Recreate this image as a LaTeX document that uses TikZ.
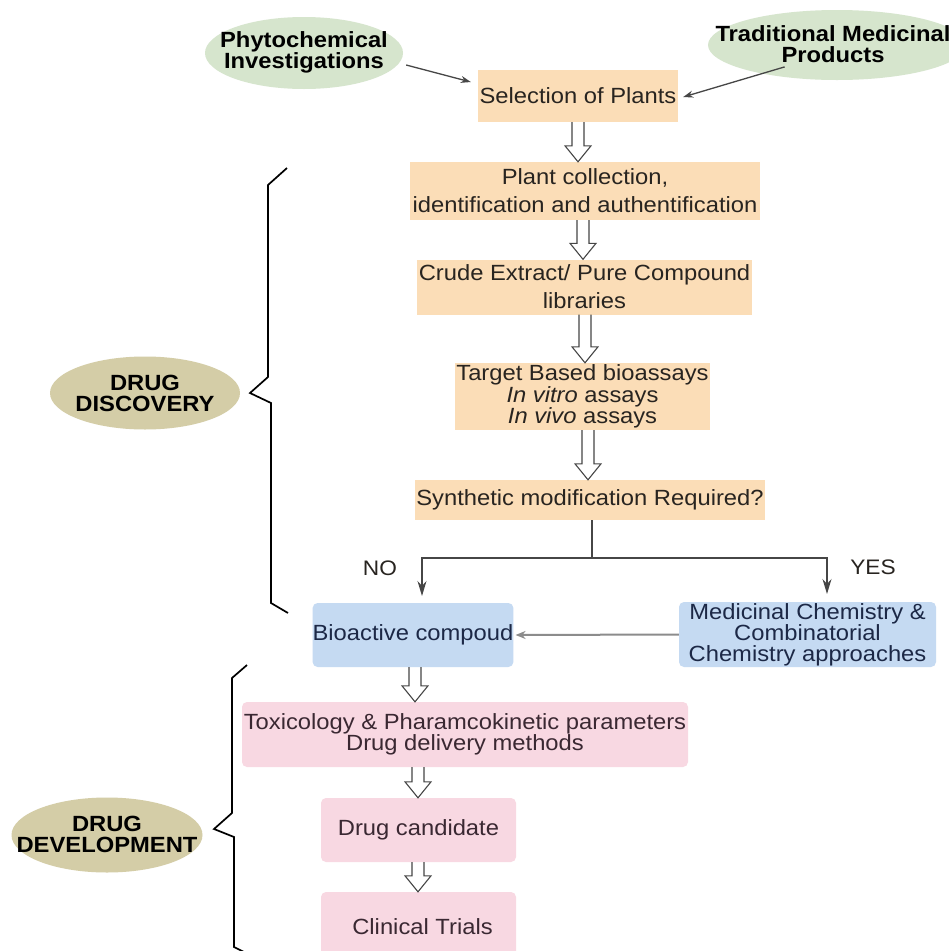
\documentclass[tikz,border=0pt]{standalone}
\usepackage{fontspec}
\setmainfont{Liberation Sans}[FakeStretch=1.08]
\usetikzlibrary{shapes.geometric,arrows.meta,calc}
\definecolor{peachc}{RGB}{251,221,183}
\definecolor{bluec}{RGB}{197,218,242}
\definecolor{pinkc}{RGB}{248,216,226}
\definecolor{greenc}{RGB}{214,229,205}
\definecolor{olivec}{RGB}{212,205,167}
\definecolor{txtdark}{RGB}{40,36,32}
\definecolor{txtblue}{RGB}{28,40,70}
\definecolor{txtpink}{RGB}{58,40,50}
\definecolor{linec}{RGB}{70,70,70}
\newcommand{\dblarrow}[3]{%
  \draw[dblstyle] let \p1=(#1.south), \p2=(#2.north) in
    (#3pt-6pt,\y1) -- (#3pt-6pt,\y2+16pt) -- (#3pt-13pt,\y2+16pt) -- (#3pt,\y2)
    -- (#3pt+13pt,\y2+16pt) -- (#3pt+6pt,\y2+16pt) -- (#3pt+6pt,\y1);}
\tikzset{
  basebox/.style={inner sep=0pt, align=center, font={\fontsize{22}{19}\selectfont}},
  peachbox/.style={basebox, fill=peachc, text=txtdark},
  bluebox/.style={basebox, fill=bluec, text=txtblue, rounded corners=5pt},
  pinkbox/.style={basebox, fill=pinkc, text=txtpink, rounded corners=5pt},
  greenell/.style={ellipse, fill=greenc, inner sep=0pt},
  oliveell/.style={ellipse, fill=olivec, inner sep=0pt},
  boldtxt/.style={align=center, inner sep=0pt, text=black, font={\fontsize{22}{21}\selectfont\bfseries}},
  dblstyle/.style={draw=linec, line width=1.1pt, line join=miter},
  thinarrow/.style={draw=linec, line width=1.3pt, -{Stealth[length=10pt,width=7pt]}},
  branch/.style={draw=linec, line width=1.2pt},
  brancharrow/.style={branch, -{Stealth[length=15pt,width=9pt]}},
  bracket/.style={draw=black, line width=1.7pt, line join=miter},
  lbl/.style={inner sep=0pt, text=txtdark, font={\fontsize{21}{21}\selectfont}}
}
\begin{document}
\begin{tikzpicture}[x=1pt,y=-1pt]
\useasboundingbox (0,0) rectangle (949,951);
\fill[white] (0,0) rectangle (949,951);

% top ellipses
\node[greenell, minimum width=198pt, minimum height=72pt] (phyto) at (304,53) {};
\node[boldtxt] (phytoT) at (304,52) {Phytochemical\\Investigations};
\node[greenell, minimum width=258pt, minimum height=70pt] (trad) at (837,45) {};
\node[boldtxt] (tradT) at (833,44) {Traditional Medicinal\\Products};

% main flow
\node[peachbox, minimum width=200pt, minimum height=52pt] (sel) at (578,96) {Selection of Plants};
\node[peachbox, minimum width=350pt, minimum height=58pt, font={\fontsize{22}{28}\selectfont}] (coll) at (585,191) {Plant collection,\\identification and authentification};
\node[peachbox, minimum width=335pt, minimum height=55pt, font={\fontsize{22}{28}\selectfont}] (crude) at (584.5,287) {Crude Extract/ Pure Compound\\libraries};
\node[peachbox, minimum width=255pt, minimum height=67pt, font={\fontsize{22}{20}\selectfont}] (target) at (582.5,396.5) {Target Based bioassays\\\textit{In vitro} assays\\\textit{In vivo} assays};
\node[peachbox, minimum width=350pt, minimum height=40pt] (synth) at (590,500) {Synthetic modification Required?};

\node[bluebox, minimum width=200pt, minimum height=64pt] (bio) at (413,635) {Bioactive compoud};
\node[bluebox, minimum width=257pt, minimum height=65pt, font={\fontsize{22}{20.5}\selectfont}] (med) at (807.5,634.5) {Medicinal Chemistry \&\\Combinatorial\\Chemistry approaches};

\node[pinkbox, minimum width=446pt, minimum height=65pt, font={\fontsize{22}{20}\selectfont}] (tox) at (465,734.5) {Toxicology \& Pharamcokinetic parameters\\Drug delivery methods};
\node[pinkbox, minimum width=195pt, minimum height=64pt] (cand) at (418.5,830) {Drug candidate};
\node[pinkbox, minimum width=195pt, minimum height=70pt] (clin) at (418.5,927) {\hspace{8pt}Clinical Trials};

\node[lbl] (no) at (380,568) {NO};
\node[lbl] (yes) at (873,567) {YES};

% side ellipses
\node[oliveell, minimum width=190pt, minimum height=73pt] (disc) at (145,393) {};
\node[boldtxt] (discT) at (145,393) {DRUG\\DISCOVERY};
\node[oliveell, minimum width=191pt, minimum height=75pt] (dev) at (107,835) {};
\node[boldtxt] (devT) at (107,834) {DRUG\\DEVELOPMENT};

% brackets
\draw[bracket] (287,168) -- (268,185) -- (268,377) -- (250,393) -- (271,403) -- (271,603) -- (288,613);
\draw[bracket] (247,665) -- (232,678) -- (232,813) -- (214,829) -- (234,837) -- (234,947) -- (246,953);

% connectors top
\draw[thinarrow] ($(phyto.east)+(3,12)$) -- ($(sel.west)+(-7,-14)$);
\draw[thinarrow] ($(trad.south west)+(39,-3)$) -- ($(sel.east)+(5,1)$);

% double arrows
\dblarrow{sel}{coll}{578}
\dblarrow{coll}{crude}{583}
\dblarrow{crude}{target}{585}
\dblarrow{target}{synth}{588}
\dblarrow{bio}{tox}{415}
\dblarrow{tox}{cand}{418}
\dblarrow{cand}{clin}{418}

% branch
\coordinate (sp) at (592,558);
\coordinate (noEnd) at (422,596);
\coordinate (yesEnd) at (827,594);
\draw[branch] (sp |- synth.south) -- (sp);
\draw[brancharrow] (sp) -| (noEnd);
\draw[brancharrow] (sp) -| (yesEnd);

% med -> bio
\draw[draw=gray!90, line width=2pt, -{Stealth[length=10pt,width=8pt]}] (med.west) -- ($(bio.east)+(2,0)$);
\end{tikzpicture}
\end{document}
